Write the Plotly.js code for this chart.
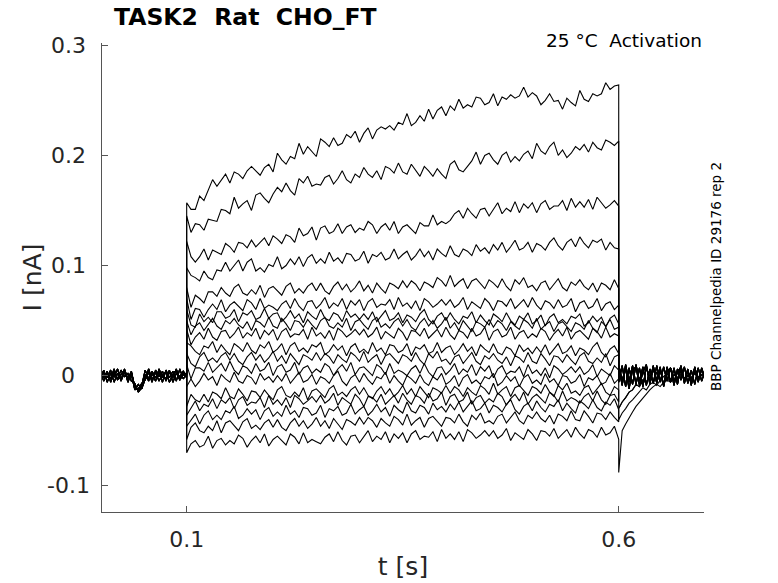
<!DOCTYPE html>
<html>
<head>
<meta charset="utf-8">
<script src="https://cdn.plot.ly/plotly-3.0.1.min.js"></script>
<style>html,body{margin:0;padding:0;background:#fff;}#chart{width:778px;height:583px;}</style>
</head>
<body>
<div id="chart"></div>
<script>
// ---- time bases (ms) ----
const tPre_ms = [0,4,8,12,16,20,24,28,32,36,40,44,48,52,56,60,64,68,72,76,80,84,88,92,96,100];
const tStep_ms = [100,105,110,115,120,125,130,135,140,145,150,155,160,165,170,175,180,185,190,195,
  200,205,210,215,220,225,230,235,240,245,250,255,260,265,270,275,280,285,290,295,
  300,305,310,315,320,325,330,335,340,345,350,355,360,365,370,375,380,385,390,395,
  400,405,410,415,420,425,430,435,440,445,450,455,460,465,470,475,480,485,490,495,
  500,505,510,515,520,525,530,535,540,545,550,555,560,565,570,575,580,585,590,595,600];
const tPost_ms = [600,604,608,612,616,620,624,628,632,636,640,644,648,652,656,660,664,668,672,676,680,684,688,692,696,700];

// ---- holding-period baselines (pA) ----
const basePre_a = [4,-5,2,-3,6,-4,1,5,-6,3,-10,-14,-9,5,-3,2,-5,6,-2,4,-6,1,5,-4,3,-2];
const basePre_b = [-3,5,-6,2,-1,6,-5,3,-4,1,-13,-8,-12,-2,6,-4,3,-5,1,-3,5,-6,2,-1,4,0];
const basePre_c = [6,-2,4,-6,3,-3,5,-1,2,-5,-7,-15,-11,1,-5,4,-2,3,-6,5,-2,4,-5,6,-3,1];
const basePre_d = [-5,3,-2,5,-6,2,-4,6,-3,4,-11,-12,-7,-4,3,-6,5,-1,4,-5,3,-2,6,-4,1,-1];

// ---- tail currents after the step (pA) ----
const tail_A = [8,-9,10,-6,9,-8,7,-10,8,-5,9,-7,6,-9,8,-6,7,-8,9,-5,6,-9,8,-6,7,-3];
const tail_B = [-6,9,-10,7,-8,10,-5,8,-9,6,-7,9,-6,8,-5,7,-9,6,-4,8,-7,5,-8,7,-5,4];
const tail_C = [10,-4,6,-12,5,8,-9,3,10,-8,6,-4,8,-10,4,7,-6,3,8,-7,4,-6,7,-3,5,-2];
const tail_D = [-40,-34,-30,-25,-22,-18,-14,-11,-13,-8,-6,-9,-4,-6,-2,-5,1,-3,2,-2,0,-3,2,-2,1,-1];
const tail_E = [-30,-24,-20,-15,-13,-8,-10,-4,-6,1,-6,3,-3,-1,2,-4,1,-2,4,-3,0,-2,3,-4,1,0];
const tail_F = [-88,-50,-44,-38,-33,-28,-24,-20,-16,-13,-10,-8,-10,-6,-4,-6,-2,-4,1,-3,0,-2,2,-1,0,-1];

// ---- step currents, one per sweep (pA), t = 100..600 ms every 5 ms ----
const sweep01 = [157,
 151,151,163,159,169,178,172,177,183,175,
 185,183,179,186,190,186,182,189,192,185,
 202,196,192,199,197,211,201,208,203,199,
 215,212,208,216,209,211,219,216,222,212,
 220,225,215,223,226,224,227,223,230,228,
 238,227,230,236,231,242,233,241,244,236,
 245,241,251,243,246,244,253,252,246,248,
 256,245,253,251,255,252,254,262,253,257,
 254,246,250,256,249,250,242,252,248,245,
 259,251,249,256,254,256,266,260,263,264];
const sweep02 = [145,
 130,138,137,132,142,141,140,151,150,147,
 162,152,156,159,150,164,166,161,157,165,
 171,167,175,168,164,179,175,181,172,174,
 173,180,182,174,179,186,178,175,183,180,
 189,183,180,186,178,190,188,184,193,185,
 183,192,187,181,190,186,181,188,183,179,
 192,195,187,185,190,195,203,192,200,202,
 196,192,200,203,194,199,195,201,204,197,
 211,204,201,208,212,200,205,198,202,208,
 205,210,203,212,207,205,214,212,209,213];
const sweep03 = [122,
 108,103,108,115,105,114,112,110,120,117,
 112,121,120,116,123,117,121,125,118,127,
 124,120,128,126,121,134,127,129,135,123,
 134,136,129,131,138,129,135,137,130,134,
 132,140,137,129,135,138,132,140,129,135,
 137,133,129,139,136,136,146,137,140,138,
 141,147,150,143,152,147,143,151,152,145,
 151,157,147,152,149,158,148,156,152,157,
 148,156,159,151,154,154,159,150,161,153,
 158,153,160,151,162,157,152,155,159,154];
const sweep04 = [98,
 91,89,86,95,89,87,96,95,103,95,
 100,105,95,103,106,95,98,94,101,99,
 108,97,100,106,101,108,99,107,110,102,
 106,102,112,104,107,102,111,110,104,106,
 113,102,110,108,112,105,107,115,106,110,
 113,105,109,115,108,113,105,115,111,108,
 118,110,108,115,113,109,119,113,116,111,
 119,114,121,112,117,123,114,116,121,112,
 120,118,114,121,125,118,114,121,124,117,
 126,120,116,123,121,124,114,121,116,115];
const sweep05 = [80,
 62,73,70,66,76,76,72,80,75,72,
 80,83,75,73,78,74,82,71,79,81,
 77,73,81,84,75,79,75,81,84,77,
 84,77,74,81,85,78,83,76,80,86,
 77,82,75,84,79,75,84,82,79,86,
 80,86,83,77,85,83,80,89,86,81,
 91,81,85,88,79,86,88,83,79,87,
 84,80,88,81,77,87,83,89,80,82,
 77,84,86,78,83,88,80,77,85,82,
 87,81,78,84,76,84,82,78,87,79];
const sweep06 = [70,
 51,61,60,53,60,65,60,69,58,64,
 67,63,59,69,66,60,70,61,64,62,
 59,65,68,61,70,63,59,67,68,61,
 65,71,61,66,63,70,60,68,64,69,
 59,67,70,62,65,64,69,60,71,63,
 66,61,68,59,70,67,62,65,69,64,
 69,62,65,71,60,67,64,61,70,66,
 59,68,67,63,70,61,65,69,62,71,
 64,60,68,66,61,69,62,64,70,58,
 66,68,61,63,70,59,65,67,60,64];
const sweep07 = [60,
 46,44,56,49,53,48,58,58,52,54,
 60,49,57,55,59,51,53,61,52,56,
 57,49,53,59,52,56,48,58,54,51,
 60,52,50,57,55,49,59,53,56,51,
 56,51,58,49,54,59,50,52,57,48,
 55,53,49,56,60,51,47,54,57,50,
 57,51,47,54,52,58,48,55,50,46,
 56,53,49,57,50,46,54,51,57,47,
 50,55,45,53,56,48,51,47,54,52,
 56,45,48,54,49,53,44,52,55,47];
const sweep08 = [50,
 37,45,48,41,47,52,45,42,50,47,
 52,46,43,49,41,50,48,44,53,45,
 43,52,47,41,50,49,44,51,46,42,
 50,53,45,43,48,44,52,41,49,51,
 46,42,50,53,44,47,43,49,52,45,
 51,44,41,48,52,45,50,43,47,53,
 43,48,41,50,45,40,49,47,44,51,
 44,50,47,41,49,45,42,51,48,43,
 52,42,46,49,40,47,49,44,40,48,
 46,42,50,43,39,49,45,51,42,44];
const sweep09 = [42,
 28,35,39,33,43,35,32,40,41,34,
 38,44,34,39,36,43,33,41,37,42,
 32,40,43,35,38,37,42,33,44,36,
 39,34,41,32,43,40,35,38,42,37,
 42,35,38,44,33,40,37,34,43,39,
 32,41,40,36,43,34,38,42,35,44,
 37,33,41,39,34,43,36,38,44,32,
 40,42,35,37,44,33,39,41,34,38,
 35,43,40,32,38,42,36,44,33,39,
 41,37,33,43,40,34,44,35,38,36];
const sweep10 = [30,
 27,22,19,27,25,31,21,28,23,19,
 29,26,22,30,23,20,28,25,31,21,
 24,29,19,27,30,22,25,21,28,26,
 30,19,22,28,23,27,18,26,29,21,
 24,20,30,22,25,19,28,27,21,23,
 29,18,26,24,28,20,22,30,21,25,
 27,19,23,29,22,26,18,28,24,21,
 29,21,19,26,24,18,28,22,25,20,
 26,21,28,19,24,29,20,22,27,18,
 25,23,19,26,30,21,17,24,27,20];
const sweep11 = [20,
 11,8,17,21,13,16,12,18,21,14,
 20,13,10,17,21,14,19,12,16,22,
 13,18,11,20,15,10,19,17,14,21,
 14,20,17,11,19,15,12,21,18,13,
 22,12,16,19,10,18,20,15,11,19,
 17,13,21,14,10,20,16,22,13,15,
 10,17,19,11,16,21,13,10,18,15,
 20,14,11,17,9,18,16,12,21,13,
 11,20,15,9,18,17,12,19,14,10,
 18,21,13,11,16,12,20,9,17,19];
const sweep12 = [10,
 -3,7,7,4,12,3,7,11,4,13,
 5,1,9,7,2,11,4,6,12,0,
 8,10,3,5,12,1,7,9,2,6,
 3,11,8,0,6,10,4,12,1,7,
 8,4,0,10,7,1,11,2,5,3,
 0,6,9,2,11,3,-1,7,8,1,
 5,11,1,6,3,10,0,8,4,9,
 -2,6,9,1,4,3,8,-1,10,2,
 5,0,7,-2,9,6,1,4,8,3,
 8,1,4,10,-1,6,3,0,9,5];
const sweep13 = [-10,
 -3,-10,-5,2,-4,-1,-9,1,-3,-6,
 3,-5,-7,0,-2,-8,2,-4,-1,-6,
 0,-5,2,-7,-2,3,-6,-4,1,-8,
 -1,-3,-7,0,4,-5,-9,-2,1,-6,
 2,-4,-8,-1,-3,3,-7,0,-5,-9,
 0,-3,-7,1,-6,-9,-1,-4,2,-8,
 -5,0,-10,-2,1,-7,-4,-8,-1,-3,
 2,-9,-6,0,-5,-1,-10,-2,1,-7,
 -4,-8,2,-6,-3,-9,0,-1,-7,-5,
 1,-10,-2,-4,0,-8,-6,2,-7,-3];
const sweep14 = [-28,
 -17,-22,-24,-17,-24,-15,-17,-21,-11,-19,
 -21,-12,-17,-23,-14,-15,-20,-13,-18,-22,
 -13,-10,-18,-20,-15,-19,-11,-22,-14,-12,
 -16,-20,-12,-9,-18,-15,-19,-13,-10,-17,
 -11,-18,-21,-14,-10,-17,-12,-19,-15,-9,
 -17,-12,-19,-10,-15,-20,-11,-13,-16,-9,
 -16,-10,-13,-19,-11,-15,-18,-9,-12,-17,
 -7,-17,-13,-10,-19,-11,-9,-14,-18,-10,
 -12,-16,-8,-15,-19,-9,-13,-7,-16,-14,
 -18,-11,-9,-17,-12,-7,-15,-18,-10,-13];
const sweep15 = [-36,
 -30,-23,-32,-26,-28,-21,-30,-22,-25,-20,
 -30,-22,-19,-27,-24,-25,-20,-29,-18,-26,
 -22,-27,-20,-29,-18,-21,-26,-23,-19,-24,
 -18,-25,-22,-16,-27,-20,-23,-26,-17,-21,
 -28,-19,-20,-24,-17,-26,-22,-18,-25,-16,
 -22,-26,-18,-20,-25,-16,-23,-21,-15,-27,
 -19,-17,-24,-22,-15,-26,-20,-18,-25,-21,
 -24,-16,-19,-27,-21,-17,-23,-15,-26,-20,
 -17,-21,-25,-15,-18,-24,-14,-23,-20,-22,
 -25,-19,-16,-23,-14,-22,-26,-18,-17,-24];
const sweep16 = [-46,
 -41,-35,-44,-36,-32,-40,-36,-40,-32,-34,
 -28,-39,-36,-30,-35,-31,-40,-32,-29,-37,
 -33,-37,-27,-35,-32,-38,-29,-30,-36,-34,
 -27,-38,-30,-32,-28,-36,-34,-26,-35,-31,
 -28,-36,-32,-26,-33,-29,-37,-27,-31,-34,
 -24,-32,-34,-27,-29,-35,-25,-31,-28,-33,
 -26,-31,-24,-33,-28,-23,-32,-30,-25,-34,
 -27,-29,-33,-26,-22,-31,-35,-28,-25,-32,
 -23,-29,-33,-26,-28,-22,-32,-25,-30,-34,
 -23,-26,-30,-22,-29,-32,-24,-27,-21,-31];
const sweep17 = [-58,
 -47,-43,-50,-52,-46,-50,-41,-52,-43,-41,
 -46,-50,-42,-39,-48,-45,-49,-43,-40,-47,
 -40,-47,-50,-43,-39,-46,-41,-48,-44,-38,
 -46,-41,-48,-39,-44,-49,-40,-42,-45,-38,
 -44,-38,-41,-47,-39,-43,-46,-37,-40,-45,
 -35,-45,-41,-38,-47,-39,-37,-42,-46,-38,
 -39,-43,-35,-42,-46,-36,-40,-34,-43,-41,
 -44,-37,-35,-43,-38,-33,-41,-44,-36,-39,
 -33,-39,-42,-36,-44,-35,-37,-41,-32,-40,
 -41,-32,-37,-43,-34,-35,-40,-33,-38,-42];
const sweep18 = [-70,
 -62,-59,-65,-63,-55,-66,-59,-57,-63,-59,
 -62,-54,-57,-65,-59,-55,-61,-53,-64,-58,
 -55,-59,-63,-53,-56,-62,-52,-61,-58,-60,
 -62,-56,-53,-60,-51,-59,-63,-55,-54,-61,
 -56,-50,-60,-55,-58,-51,-61,-53,-57,-52,
 -61,-53,-50,-58,-55,-56,-51,-60,-49,-57,
 -53,-58,-51,-60,-49,-52,-57,-54,-50,-55,
 -50,-57,-54,-48,-59,-52,-55,-58,-49,-53,
 -59,-50,-51,-55,-48,-57,-53,-49,-56,-47,
 -53,-57,-49,-51,-56,-47,-54,-52,-46,-58];

const sweeps = [sweep01,sweep02,sweep03,sweep04,sweep05,sweep06,sweep07,sweep08,sweep09,
                sweep10,sweep11,sweep12,sweep13,sweep14,sweep15,sweep16,sweep17,sweep18];
const preOfSweep  = [basePre_a,basePre_b,basePre_c,basePre_d,basePre_a,basePre_b,basePre_c,basePre_d,basePre_a,
                     basePre_b,basePre_c,basePre_d,basePre_a,basePre_b,basePre_c,basePre_d,basePre_a,basePre_b];
const tailOfSweep = [tail_A,tail_B,tail_C,tail_A,tail_B,tail_C,tail_A,tail_B,tail_C,
                     tail_A,tail_B,tail_C,tail_A,tail_E,tail_B,tail_D,tail_E,tail_F];

const yTickVals = [-0.1, 0, 0.1, 0.2, 0.3];
const yTickText = ['-0.1', '0', '0.1', '0.2', '0.3'];
const xTickVals = [0.1, 0.6];
const xTickText = ['0.1', '0.6'];

const xAll = tPre_ms.concat(tStep_ms, tPost_ms).map(v => v / 1000);
const traces = sweeps.map((s, i) => ({
  type: 'scatter', mode: 'lines',
  x: xAll,
  y: preOfSweep[i].concat(s, tailOfSweep[i]).map(v => v / 1000),
  line: {color: '#000', width: 1.1},
  hoverinfo: 'skip'
}));

const FONT = 'DejaVu Sans, Liberation Sans, sans-serif';
const L = 102, R = 704, T = 43, B = 512;
const px2paperX = p => (p - L) / (R - L);
const px2paperY = p => (B - p) / (B - T);

const annotations = yTickVals.map((v, i) => ({
  xref: 'paper', yref: 'y', x: px2paperX(68), y: v,
  xanchor: 'center', yanchor: 'middle', showarrow: false,
  text: yTickText[i], font: {family: FONT, size: 22, color: '#262626'}
}));
annotations.push({
  xref: 'paper', yref: 'paper', x: px2paperX(704), y: px2paperY(40.5),
  xanchor: 'right', yanchor: 'middle', showarrow: false,
  text: '25 °C\u00A0 Activation', font: {family: FONT, size: 18.5, color: '#000'}
});
annotations.push({
  xref: 'paper', yref: 'paper', x: px2paperX(716), y: px2paperY(277),
  xanchor: 'center', yanchor: 'middle', showarrow: false, textangle: -90,
  text: 'BBP Channelpedia ID 29176 rep 2', font: {family: FONT, size: 13.5, color: '#000'}
});

const layout = {
  width: 778, height: 583,
  margin: {l: L, r: 778 - R, t: T, b: 583 - B, pad: 0},
  paper_bgcolor: '#fff', plot_bgcolor: '#fff',
  showlegend: false,
  font: {family: FONT, color: '#262626'},
  title: {
    text: '<b>TASK2\u00A0 Rat\u00A0 CHO_FT</b>',
    xref: 'container', yref: 'container',
    x: 114 / 778, xanchor: 'left', y: 1 - 17 / 583, yanchor: 'middle',
    font: {family: FONT, size: 23.5, color: '#000'}
  },
  xaxis: {
    range: [0.002, 0.6987], tickmode: 'array', tickvals: xTickVals, ticktext: xTickText,
    ticks: 'inside', ticklen: 6, tickcolor: '#555', tickwidth: 1,
    showline: true, linecolor: '#555', linewidth: 1, showgrid: false, zeroline: false,
    tickfont: {family: FONT, size: 22, color: '#262626'}, ticklabelstandoff: 8,
    title: {text: 't [s]', font: {family: FONT, size: 25, color: '#262626'}, standoff: 6},
    automargin: false, fixedrange: true
  },
  yaxis: {
    range: [-0.1239, 0.3021], tickmode: 'array', tickvals: yTickVals,
    ticks: 'inside', ticklen: 6, tickcolor: '#555', tickwidth: 1,
    showline: true, linecolor: '#555', linewidth: 1, showgrid: false, zeroline: false,
    showticklabels: false,
    title: {text: 'I [nA]', font: {family: FONT, size: 25, color: '#262626'}, standoff: 52},
    automargin: false, fixedrange: true
  },
  annotations: annotations
};

Plotly.newPlot('chart', traces, layout, {staticPlot: true, displayModeBar: false});
</script>
</body>
</html>
